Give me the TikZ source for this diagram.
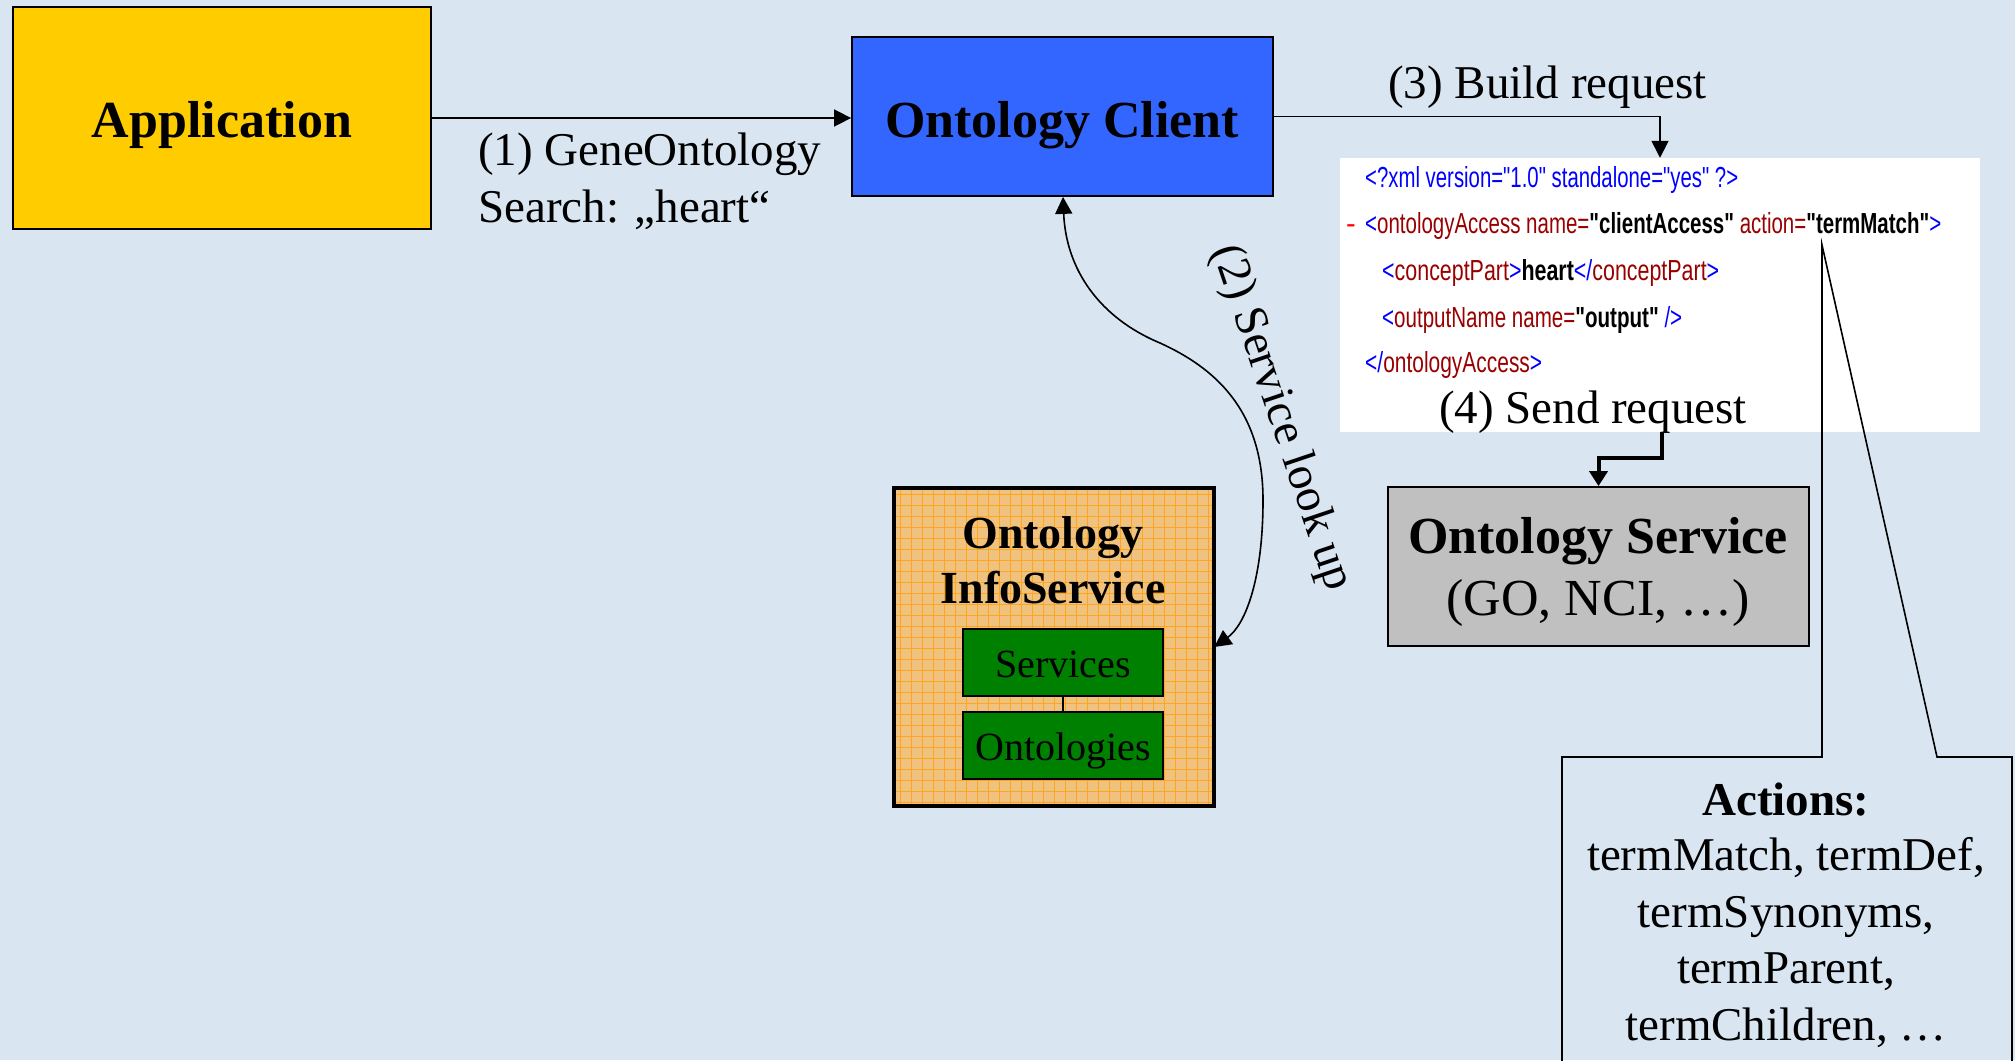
\documentclass[tikz,border=0pt]{standalone}
\usepackage{fontspec}
\usepackage{graphicx}
\setmainfont{Liberation Serif}
\newfontfamily\xmlfont{Liberation Sans}
\usetikzlibrary{arrows.meta}

\definecolor{bgblue}{RGB}{217,229,240}
\definecolor{appyellow}{RGB}{255,204,0}
\definecolor{clientblue}{RGB}{51,102,255}
\definecolor{servicegray}{RGB}{192,192,192}
\definecolor{boxgreen}{RGB}{0,128,0}
\definecolor{infotan}{RGB}{240,194,128}
\definecolor{infogrid}{RGB}{255,165,30}
\definecolor{xmlblue}{RGB}{0,0,255}
\definecolor{xmltag}{RGB}{153,0,0}
\definecolor{xmldash}{RGB}{255,0,0}

% colour classes of the XML listing
\newcommand{\xmlm}[1]{\textcolor{xmlblue}{#1}}
\newcommand{\xmlt}[1]{\textcolor{xmltag}{#1}}
\newcommand{\xmlv}[1]{\textcolor{black}{\bfseries #1}}

\begin{document}
\begin{tikzpicture}[x=1pt,y=-1pt,
  box/.style={rectangle, draw=black, line width=1.8pt, inner sep=0pt},
  bigbold/.style={font=\fontsize{52}{60}\selectfont\bfseries, anchor=base, inner sep=0pt},
  bigreg/.style={font=\fontsize{52}{60}\selectfont, anchor=base, inner sep=0pt},
  midbold/.style={font=\fontsize{46}{54}\selectfont\bfseries, anchor=base, inner sep=0pt},
  lbl/.style={font=\fontsize{47}{56}\selectfont, anchor=base, inner sep=0pt},
  lblw/.style={lbl, anchor=base west},
  small/.style={font=\fontsize{40}{48}\selectfont, anchor=base, inner sep=0pt},
  xmlline/.style={font=\xmlfont\fontsize{29}{32}\selectfont, anchor=base west, inner sep=0pt},
  arrow/.style={line width=1.6pt, -{Triangle[length=17pt,width=17pt]}},
  thickarrow/.style={line width=4pt, -{Triangle[length=15pt,width=18pt]}},
  connect/.style={line width=1.6pt},
  gridline/.style={infogrid, line width=0.9pt},
]
% canvas
\clip (0,0) rectangle (2015,1060);
\fill[bgblue] (0,0) rectangle (2015,1060);

% main boxes
\node[box, fill=appyellow, minimum width=418pt, minimum height=222pt] (app) at (222,118) {};
\node[bigbold] (apptext) at (222,137) {Application};

\node[box, fill=clientblue, minimum width=421pt, minimum height=159pt] (client) at (1062.5,116.5) {};
\node[bigbold] (clienttext) at (1062,137) {Ontology Client};

\node[rectangle, fill=white, inner sep=0pt, minimum width=640pt, minimum height=274pt] (xml) at (1660,295) {};

\node[box, fill=servicegray, minimum width=421pt, minimum height=159pt] (service) at (1598.5,566.5) {};
\node[bigbold] (servicetext) at (1598,553) {Ontology Service};
\node[bigreg] (servicesub) at (1598,615) {(GO, NCI, …)};

% info service: tan fill with an orange grid
\node[rectangle, fill=infotan, inner sep=0pt, minimum width=320pt, minimum height=318pt] (info) at (1054,647) {};
\begin{scope}
  \clip (info.south west) rectangle (info.north east);
  \foreach \gx in {900,911,...,1212} \draw[gridline] (\gx,480) -- (\gx,815);
  \foreach \gy in {494,505,...,804} \draw[gridline] (885,\gy) -- (1225,\gy);
\end{scope}
\draw[line width=4pt] (info.south west) rectangle (info.north east);
\node[midbold] (infotitle1) at (1053,548) {Ontology};
\node[midbold] (infotitle2) at (1053,603) {InfoService};

\node[box, fill=boxgreen, line width=1.5pt, minimum width=200pt, minimum height=67pt] (services) at (1063,662.5) {};
\node[small] (servicestext) at (1063,677) {Services};
\node[box, fill=boxgreen, line width=1.5pt, minimum width=200pt, minimum height=67pt] (ontologies) at (1063,745.5) {};
\node[small] (ontologiestext) at (1063,760) {Ontologies};
\draw[line width=1.5pt] (services.south) -- (ontologies.north);

% XML request listing
\node[xmlline] (xml1) at (1365,187) {\resizebox{373pt}{\height}{\xmlm{<?xml version="1.0" standalone="yes" ?>}}};
\node[xmlline] (xmldash) at (1346,233) {\textcolor{xmldash}{-}};
\node[xmlline] (xml2) at (1365,233) {\resizebox{576pt}{\height}{\xmlm{<}\xmlt{ontologyAccess~name=}\xmlv{"clientAccess"}\xmlt{~action=}\xmlv{"termMatch"}\xmlm{>}}};
\node[xmlline] (xml3) at (1382,280) {\resizebox{337pt}{\height}{\xmlm{<}\xmlt{conceptPart}\xmlm{>}\xmlv{heart}\xmlm{</}\xmlt{conceptPart}\xmlm{>}}};
\node[xmlline] (xml4) at (1382,327) {\resizebox{300pt}{\height}{\xmlm{<}\xmlt{outputName~name=}\xmlv{"output"}\xmlm{~/>}}};
\node[xmlline] (xml5) at (1365,372) {\resizebox{177pt}{\height}{\xmlm{</}\xmlt{ontologyAccess}\xmlm{>}}};

% connectors
\draw[arrow] (app.east) -- (app.east -| client.west);
\node[lblw] (lbl1a) at (478,165) {(1) GeneOntology};
\node[lblw] (lbl1b) at (478,222) {Search: „heart“};

\draw[arrow] (client.east) -| (xml.north);
\node[lblw] (lbl3) at (1388,98) {(3) Build request};

\draw[line width=1.6pt, {Triangle[length=17pt,width=17pt]}-{Triangle[length=17pt,width=17pt]}]
  ([xshift=0.5pt]client.south) .. controls (1066,270) and (1100,318) .. (1160,343)
  .. controls (1215,368) and (1263,410) .. (1263,500)
  .. controls (1263,580) and (1245,625) .. (info.east);
\node[lbl, anchor=center, rotate=-71.4] (lbl2) at (1281,418) {(2) Service look up};

\node[lbl] (lbl4) at (1593,423) {(4) Send request};
\draw[thickarrow] ([xshift=2pt]xml.south) -- ++(0,26) -| (service.north);

% callout listing the available actions
\coordinate (pointer) at (1822,245);
\draw[connect] (1562,1070) -- (1562,757) -- (1822,757) -- (pointer) -- (1937,757) -- (2012,757) -- (2012,1070);
\node[lbl, font=\fontsize{47}{56}\selectfont\bfseries] (act0) at (1786,815) {Actions:};
\node[lbl] (act1) at (1786,870) {termMatch, termDef,};
\node[lbl] (act2) at (1786,927) {termSynonyms,};
\node[lbl] (act3) at (1786,983) {termParent,};
\node[lbl] (act4) at (1786,1040) {termChildren, …};
\end{tikzpicture}
\end{document}
